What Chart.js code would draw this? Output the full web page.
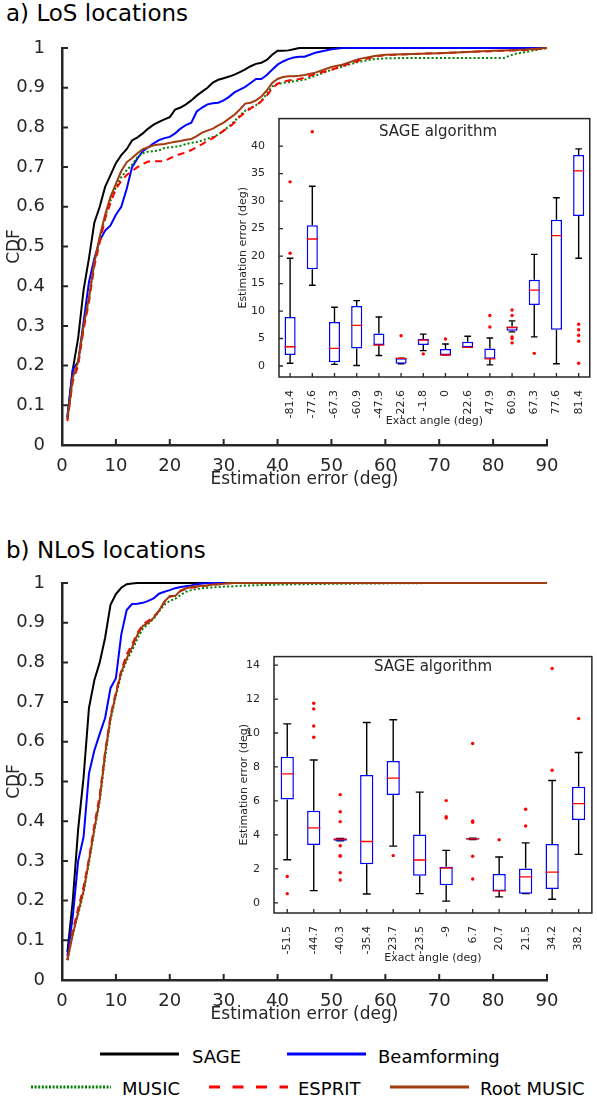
<!DOCTYPE html>
<html><head><meta charset="utf-8">
<script src="https://cdn.jsdelivr.net/npm/chart.js@4.4.1/dist/chart.umd.min.js"></script>
<style>
html,body{margin:0;padding:0;background:#fff;}
body{width:597px;height:1102px;position:relative;overflow:hidden;font-family:'DejaVu Sans',sans-serif;color:#000;}
canvas{position:absolute;}
.t{position:absolute;white-space:nowrap;line-height:1;}
</style></head><body>
<div class="t" style="left:6px;top:2px;font-size:23px;">a) LoS locations</div>
<div class="t" style="left:6px;top:539px;font-size:23px;">b) NLoS locations</div>
<canvas id="losMain" width="597" height="490" style="left:0;top:0"></canvas>
<canvas id="losBox" width="360" height="323" style="left:237px;top:106px"></canvas>
<div class="t" style="left:338px;top:124px;width:200px;text-align:center;font-size:15px;color:#262626">SAGE algorithm</div>
<canvas id="nlosMain" width="597" height="490" style="left:0;top:535px"></canvas>
<canvas id="nlosBox" width="359" height="322" style="left:238px;top:644px"></canvas>
<div class="t" style="left:333px;top:659px;width:200px;text-align:center;font-size:15px;color:#262626">SAGE algorithm</div>
<svg style="position:absolute;left:0;top:1040px" width="597" height="62">
  <line x1="100" y1="14" x2="179" y2="14" stroke="#000" stroke-width="3"/>
  <line x1="287" y1="14" x2="366" y2="14" stroke="#0000ff" stroke-width="3"/>
  <line x1="31" y1="47" x2="111" y2="47" stroke="#008000" stroke-width="3" stroke-dasharray="2 1.6"/>
  <line x1="209" y1="47" x2="288" y2="47" stroke="#ff0000" stroke-width="3" stroke-dasharray="11 12.5"/>
  <line x1="390" y1="47" x2="469" y2="47" stroke="#a03c0f" stroke-width="3"/>
</svg>
<div class="t" style="left:192px;top:1048px;font-size:18px;">SAGE</div>
<div class="t" style="left:378px;top:1048px;font-size:18px;">Beamforming</div>
<div class="t" style="left:122px;top:1080px;font-size:18px;">MUSIC</div>
<div class="t" style="left:298px;top:1080px;font-size:18px;">ESPRIT</div>
<div class="t" style="left:480px;top:1080px;font-size:18px;">Root MUSIC</div>
<script>
// ---------- CDF data ----------
const errTicks = [0,10,20,30,40,50,60,70,80,90];
const cdfTicks = [0,0.1,0.2,0.3,0.4,0.5,0.6,0.7,0.8,0.9,1];

const losX = [1,2,3,4,5,6,7,8,9,10,11,12,13,14,15,16,17,18,19,20,21,22,23,24,25,26,27,28,29,30,31,32,33,34,35,36,37,38,39,40,41,42,43,44,45,47,50,52,55,58,60,65,70,75,80,82,84,86,88,90];
const losSage = [0.07,0.19,0.27,0.39,0.47,0.56,0.60,0.65,0.68,0.71,0.73,0.745,0.767,0.775,0.785,0.797,0.807,0.814,0.82,0.826,0.845,0.85,0.858,0.868,0.88,0.89,0.90,0.913,0.92,0.924,0.928,0.933,0.939,0.946,0.954,0.96,0.963,0.97,0.983,0.993,0.993,0.994,0.997,1,1,1,1,1,1,1,1,1,1,1,1,1,1,1,1,1];
const losBeam = [0.07,0.19,0.21,0.31,0.41,0.47,0.515,0.54,0.553,0.58,0.60,0.645,0.70,0.722,0.74,0.75,0.76,0.768,0.773,0.776,0.785,0.797,0.806,0.812,0.84,0.85,0.858,0.861,0.862,0.868,0.877,0.888,0.895,0.902,0.912,0.922,0.922,0.932,0.945,0.958,0.966,0.972,0.976,0.978,0.978,0.988,0.997,1,1,1,1,1,1,1,1,1,1,1,1,1];
const losMusic = [0.065,0.17,0.21,0.30,0.37,0.46,0.52,0.575,0.615,0.65,0.675,0.692,0.706,0.725,0.735,0.739,0.74,0.742,0.748,0.75,0.751,0.754,0.758,0.761,0.763,0.767,0.772,0.776,0.782,0.792,0.803,0.815,0.83,0.842,0.85,0.856,0.866,0.885,0.903,0.91,0.912,0.914,0.916,0.918,0.92,0.93,0.945,0.953,0.965,0.972,0.974,0.975,0.975,0.975,0.975,0.975,0.985,0.99,0.995,1];
const losEsprit = [0.06,0.16,0.20,0.29,0.36,0.45,0.51,0.57,0.61,0.645,0.665,0.68,0.69,0.70,0.708,0.714,0.715,0.715,0.715,0.722,0.728,0.733,0.737,0.743,0.75,0.758,0.766,0.773,0.782,0.792,0.80,0.812,0.827,0.838,0.848,0.855,0.866,0.88,0.898,0.91,0.915,0.918,0.92,0.922,0.925,0.935,0.945,0.955,0.968,0.978,0.982,0.985,0.987,0.99,0.992,0.993,0.994,0.995,0.997,1];
const losRoot = [0.065,0.17,0.21,0.30,0.37,0.46,0.525,0.58,0.625,0.658,0.69,0.712,0.723,0.735,0.745,0.75,0.755,0.757,0.758,0.761,0.764,0.766,0.769,0.771,0.778,0.787,0.792,0.797,0.805,0.812,0.822,0.832,0.845,0.86,0.862,0.868,0.878,0.893,0.912,0.922,0.927,0.929,0.929,0.93,0.932,0.938,0.952,0.958,0.972,0.98,0.983,0.985,0.987,0.99,0.993,0.994,0.995,0.996,0.998,1];

const nlosX = [1,2,3,4,5,6,7,8,9,10,11,12,13,14,15,16,17,18,19,20,21,22,23,24,25,26,27,28,29,30,31,32,35,40,45,50,60,70,80,90];
const nlosSage = [0.07,0.20,0.38,0.51,0.685,0.755,0.80,0.862,0.945,0.972,0.988,0.997,0.999,1,1,1,1,1,1,1,1,1,1,1,1,1,1,1,1,1,1,1,1,1,1,1,1,1,1,1];
const nlosBeam = [0.06,0.16,0.30,0.36,0.52,0.578,0.62,0.66,0.735,0.76,0.87,0.932,0.947,0.948,0.95,0.955,0.961,0.973,0.978,0.982,0.987,0.99,0.992,0.994,0.997,0.999,1,1,1,1,1,1,1,1,1,1,1,1,1,1];
const nlosMusic = [0.05,0.115,0.165,0.22,0.295,0.375,0.45,0.56,0.655,0.715,0.77,0.805,0.83,0.86,0.885,0.897,0.91,0.928,0.945,0.955,0.96,0.97,0.978,0.982,0.985,0.987,0.988,0.989,0.99,0.991,0.991,0.992,0.994,0.996,0.997,0.998,0.999,1,1,1];
const nlosEsprit = [0.05,0.125,0.18,0.235,0.305,0.39,0.465,0.575,0.665,0.725,0.78,0.82,0.845,0.875,0.895,0.905,0.915,0.93,0.952,0.965,0.968,0.98,0.985,0.988,0.99,0.992,0.994,0.996,0.997,0.998,0.999,1,1,1,1,1,1,1,1,1];
const nlosRoot = [0.05,0.115,0.17,0.225,0.30,0.38,0.455,0.57,0.66,0.72,0.775,0.81,0.838,0.87,0.892,0.90,0.912,0.93,0.953,0.967,0.967,0.981,0.987,0.99,0.992,0.993,0.994,0.996,0.997,0.998,1,1,1,1,1,1,1,1,1,1];

// ---------- Box plot data (SAGE algorithm) ----------
const losAngles = ['-81.4','-77.6','-67.3','-60.9','-47.9','-22.6','-1.8','0','22.6','47.9','60.9','67.3','77.6','81.4'];
const losWhiskLo = [0.5,14.7,0.3,0.1,1.9,0.4,2.8,2.0,3.4,0.2,6.2,5.3,0.4,19.6];
const losQ1 = [2.0,17.6,0.7,3.2,3.8,0.4,3.8,2.0,3.4,1.3,6.4,11.1,6.6,27.3];
const losMedian = [3.5,23.1,3.2,7.4,3.8,1.4,4.7,2.0,3.4,1.3,7.0,13.8,23.7,35.5];
const losQ3 = [8.9,25.6,8.0,10.9,5.9,1.4,4.9,3.1,4.4,3.2,7.2,15.7,26.6,38.4];
const losWhiskHi = [19.6,32.7,10.7,11.9,8.9,1.4,5.8,4.0,5.4,5.1,8.2,20.3,30.6,39.5];
const losOutliers = [[33.5,20.5],[42.6],[],[],[],[5.5],[2.2],[4.9],[],[9.2,7.1],[10.2,9.2,5.3,5.0,4.2],[2.3],[],[7.6,6.6,5.6,4.5,0.5]];
const losBoxTicks = [0,5,10,15,20,25,30,35,40];

const nlosAngles = ['-51.5','-44.7','-40.3','-35.4','-23.7','-23.5','-9','6.7','20.7','21.5','34.2','38.2'];
const nlosWhiskLo = [2.54,0.72,3.65,0.52,3.34,0.54,0.1,3.73,0.35,0.54,0.21,2.85];
const nlosQ1 = [6.08,3.40,3.65,2.27,6.35,1.59,1.03,3.73,0.70,0.54,0.82,4.87];
const nlosMedian = [7.59,4.41,3.75,3.61,7.34,2.52,2.04,3.77,0.70,1.53,1.81,5.84];
const nlosQ3 = [8.6,5.42,3.79,7.53,8.35,4.02,2.12,3.8,1.69,2.02,3.46,6.83];
const nlosWhiskHi = [10.54,8.41,3.79,10.62,10.78,6.52,3.09,3.8,2.70,3.53,7.20,8.85];
const nlosOutliers = [[1.55,0.54],[11.75,11.42,10.41,9.75],[6.37,5.36,4.78,3.36,2.78,2.74,1.77,1.34],[],[2.78],[],[6.02,5.07,4.99],[9.38,4.82,4.74,2.74,1.40],[3.71],[5.51,4.52],[13.8,7.81],[10.85]];
const nlosBoxTicks = [0,2,4,6,8,10,12,14];

// ---------- rendering ----------
const AX = '#262626';
Chart.defaults.font.family = "'DejaVu Sans', sans-serif";
Chart.defaults.color = AX;

function inwardTicks(len, width) {
  return {
    id: 'inwardTicks',
    afterDraw(chart) {
      const {ctx, chartArea: a, scales} = chart;
      ctx.save();
      ctx.strokeStyle = AX; ctx.lineWidth = width;
      ctx.beginPath();
      scales.x.ticks.forEach(t => { const p = scales.x.getPixelForValue(t.value); ctx.moveTo(p, a.bottom); ctx.lineTo(p, a.bottom - len); });
      scales.y.ticks.forEach(t => { const p = scales.y.getPixelForValue(t.value); ctx.moveTo(a.left, p); ctx.lineTo(a.left + len, p); });
      ctx.stroke();
      ctx.restore();
    }
  };
}
const frame = {
  id: 'frame',
  beforeDraw(chart) { const {ctx, chartArea: a} = chart; ctx.save(); ctx.fillStyle = '#fff'; ctx.fillRect(a.left, a.top, a.right - a.left, a.bottom - a.top); ctx.restore(); },
  afterDraw(chart) { const {ctx, chartArea: a} = chart; ctx.save(); ctx.strokeStyle = AX; ctx.lineWidth = 1.5; ctx.strokeRect(a.left, a.top, a.right - a.left, a.bottom - a.top); ctx.restore(); }
};

function cdfChart(id, xs, sets) {
  const series = [
    {label:'SAGE', v:sets[0], color:'#000000', dash:[], order:5},
    {label:'Beamforming', v:sets[1], color:'#0000ff', dash:[], order:4},
    {label:'MUSIC', v:sets[2], color:'#008000', dash:[2,2.2], order:3},
    {label:'ESPRIT', v:sets[3], color:'#ff0000', dash:[7,5], order:2},
    {label:'Root MUSIC', v:sets[4], color:'#a03c0f', dash:[], order:1}
  ];
  return new Chart(document.getElementById(id), {
    type: 'line',
    data: { datasets: series.map(s => ({
      label: s.label, data: xs.map((x, i) => ({x, y: s.v[i]})),
      borderColor: s.color, borderWidth: 2, borderDash: s.dash, pointRadius: 0,
      fill: false, tension: 0, clip: 6, order: s.order
    })) },
    options: {
      responsive: false, animation: false, devicePixelRatio: 1, events: [],
      layout: { padding: {top: 48, right: 50, left: 0, bottom: 0} },
      plugins: { legend: {display: false}, tooltip: {enabled: false} },
      scales: {
        x: { type: 'linear', min: 0, max: 90,
          afterFit: s => { s.height = 45; },
          afterBuildTicks: s => { s.ticks = errTicks.map(v => ({value: v})); },
          grid: {display: false}, border: {display: true, color: AX, width: 2.5},
          ticks: {padding: 3, color: AX, font: {size: 18}, maxRotation: 0, autoSkip: false, callback: v => String(v)},
          title: {display: true, text: 'Estimation error (deg)', color: AX, font: {size: 17}, padding: {top: 0, bottom: 0}} },
        y: { type: 'linear', min: 0, max: 1,
          afterFit: s => { s.width = 62; },
          afterBuildTicks: s => { s.ticks = cdfTicks.map(v => ({value: v})); },
          grid: {display: false}, border: {display: true, color: AX, width: 2.5},
          ticks: {padding: 9, color: AX, font: {size: 18}, autoSkip: false, callback: v => String(v)},
          title: {display: true, text: 'CDF', color: AX, font: {size: 17}, padding: {top: 4, bottom: 0}} }
      }
    },
    plugins: [inwardTicks(6, 2)]
  });
}

function boxChart(id, cats, lo, q1, med, q3, hi, outl, yMin, yMax, yTicks, yW, xH, padTop, padRight) {
  const whisk = [], meds = [], pts = [];
  const cap = 0.15, mh = 0.25;
  cats.forEach((c, i) => {
    const x = i + 1;
    whisk.push({x, y: lo[i]}, {x, y: q1[i]}, {x, y: null},
               {x, y: q3[i]}, {x, y: hi[i]}, {x, y: null},
               {x: x - cap, y: lo[i]}, {x: x + cap, y: lo[i]}, {x, y: null},
               {x: x - cap, y: hi[i]}, {x: x + cap, y: hi[i]}, {x, y: null});
    meds.push({x: x - mh, y: med[i]}, {x: x + mh, y: med[i]}, {x, y: null});
    outl[i].forEach(v => pts.push({x, y: v}));
  });
  return new Chart(document.getElementById(id), {
    type: 'bar',
    data: { datasets: [
      { type: 'bar', label: 'box', data: cats.map((c, i) => ({x: i + 1, y: [q1[i], q3[i]]})),
        backgroundColor: '#ffffff', borderColor: '#0000ff', borderWidth: 1.5, borderSkipped: false,
        barPercentage: 0.5, categoryPercentage: 1, order: 1 },
      { type: 'line', label: 'whiskers', data: whisk, borderColor: '#000000', borderWidth: 1.4,
        pointRadius: 0, spanGaps: false, tension: 0, fill: false, order: 2 },
      { type: 'line', label: 'median', data: meds, borderColor: '#ff0000', borderWidth: 1.3,
        pointRadius: 0, spanGaps: false, tension: 0, fill: false, order: 0 },
      { type: 'scatter', label: 'outliers', data: pts, pointStyle: 'circle', pointRadius: 1.7,
        backgroundColor: '#ff0000', borderWidth: 0, showLine: false, order: 0 }
    ] },
    options: {
      responsive: false, animation: false, devicePixelRatio: 1, events: [],
      layout: { padding: {top: padTop, right: padRight, left: 0, bottom: 0} },
      plugins: { legend: {display: false}, tooltip: {enabled: false} },
      scales: {
        x: { type: 'linear', min: 0.5, max: cats.length + 0.5, offset: false,
          afterFit: s => { s.height = xH; },
          afterBuildTicks: s => { s.ticks = cats.map((c, i) => ({value: i + 1})); },
          grid: {display: false}, border: {display: false},
          ticks: {padding: 5, color: AX, font: {size: 11}, minRotation: 90, maxRotation: 90, autoSkip: false,
                  callback: v => cats[Math.round(v) - 1]},
          title: {display: true, text: 'Exact angle (deg)', color: AX, font: {size: 11}, padding: {top: 0, bottom: 1}} },
        y: { type: 'linear', min: yMin, max: yMax,
          afterFit: s => { s.width = yW; },
          afterBuildTicks: s => { s.ticks = yTicks.map(v => ({value: v})); },
          grid: {display: false}, border: {display: false},
          ticks: {padding: 6, color: AX, font: {size: 11}, autoSkip: false, callback: v => String(v)},
          title: {display: true, text: 'Estimation error (deg)', color: AX, font: {size: 11}, padding: {top: 0, bottom: 0}} }
      }
    },
    plugins: [frame, inwardTicks(4, 1.3)]
  });
}

cdfChart('losMain', losX, [losSage, losBeam, losMusic, losEsprit, losRoot]);
cdfChart('nlosMain', nlosX, [nlosSage, nlosBeam, nlosMusic, nlosEsprit, nlosRoot]);
boxChart('losBox', losAngles, losWhiskLo, losQ1, losMedian, losQ3, losWhiskHi, losOutliers, -2, 45, losBoxTicks, 42, 52, 10, 1);
boxChart('nlosBox', nlosAngles, nlosWhiskLo, nlosQ1, nlosMedian, nlosQ3, nlosWhiskHi, nlosOutliers, -0.6, 14.5, nlosBoxTicks, 36, 53, 10, 4);
</script>
</body></html>
